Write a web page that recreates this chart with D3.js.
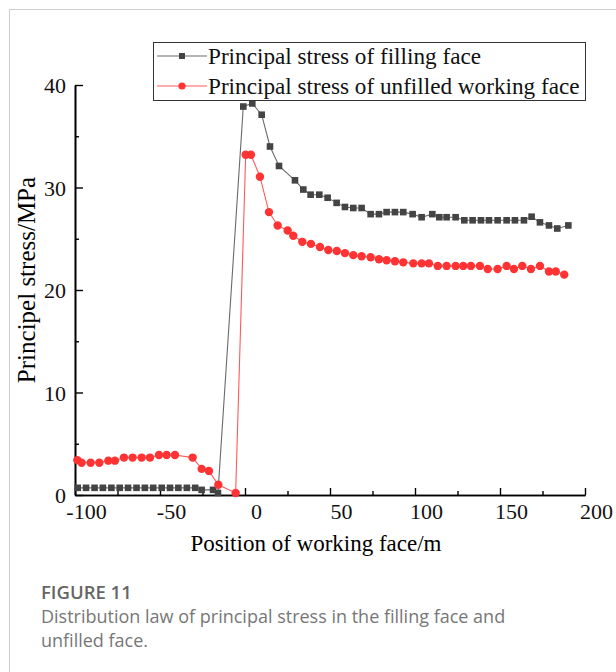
<!DOCTYPE html>
<html>
<head>
<meta charset="utf-8">
<script src="https://cdn.jsdelivr.net/npm/d3@7"></script>
<style>
  body { margin: 0; background: #fff; }
  svg { display: block; }
  .serif { font-family: "Liberation Serif", "Times New Roman", serif; }
</style>
</head>
<body>
<div id="chart"></div>
<script>
// position of working face (m) and principal stress (MPa)
var xFilling = [-98.4,-93.5,-88.5,-83.6,-78.6,-73.7,-68.8,-63.8,-58.9,-54,-49,-44.1,-39.2,-34.2,-29.3,-25.5,-18.8,-15.9,
  -1,4.3,9.8,14.7,20,29.4,34.3,38.6,43.7,48.6,53.9,58.8,63.7,68.6,73.9,78.8,83.3,88.2,93.1,98.6,103.9,110.2,114.3,
  118.6,123.9,129,133.9,138.8,143.5,148.6,153.9,158.8,164.1,168.6,173.5,178.8,183.7,190.2];
var yFilling = [0.7,0.7,0.7,0.7,0.7,0.7,0.7,0.7,0.7,0.7,0.7,0.7,0.7,0.7,0.7,0.5,0.5,0.2,
  37.9,38.2,37.1,34.0,32.1,30.7,29.8,29.3,29.3,29.0,28.5,28.1,28.0,28.0,27.4,27.4,27.6,27.6,27.6,27.4,27.1,27.4,27.1,
  27.1,27.1,26.8,26.8,26.8,26.8,26.8,26.8,26.8,26.8,27.15,26.6,26.3,26.0,26.3];

var xUnfilled = [-98.6,-96.1,-90.8,-85.7,-80.4,-76.5,-71.2,-66.1,-60.8,-55.9,-50.6,-46.1,-41.2,-30.8,-25.5,-21.2,-15.7,-5.5,
  0.4,3.5,8.8,14.1,19.2,25.1,28.4,33.7,38.8,44.1,49,54,58.8,63.7,68.6,73.9,78.8,83.3,88.2,93.1,99,103.9,108.2,113.4,
  118.6,123.9,128.4,132.9,138.2,142.8,148.6,153.9,158.2,163.1,168.2,173.5,178.8,182.8,187.8];
var yUnfilled = [3.4,3.15,3.15,3.15,3.35,3.35,3.65,3.65,3.65,3.65,3.9,3.9,3.9,3.65,2.55,2.35,1.0,0.2,
  33.2,33.2,31.05,27.6,26.3,25.8,25.3,24.7,24.5,24.2,23.9,23.8,23.6,23.4,23.3,23.2,23.0,22.9,22.8,22.7,22.6,22.6,22.6,22.35,
  22.35,22.35,22.35,22.35,22.35,22.05,22.05,22.35,22.05,22.35,22.05,22.35,21.8,21.8,21.5];

var xTicks = [-100, -50, 0, 50, 100, 150, 200];
var xMinor = [-75, -25, 25, 75, 125, 175];
var yTicks = [0, 10, 20, 30, 40];
var yMinor = [5, 15, 25, 35];

var seriesNames = ["Principal stress of filling face", "Principal stress of unfilled working face"];

var W = 616, H = 672;
var svg = d3.select("#chart").append("svg")
  .attr("width", W)
  .attr("height", H);

// figure frame (top and left edges visible)
svg.append("rect")
  .attr("x", 9.5).attr("y", 9.5)
  .attr("width", W + 20).attr("height", H + 20)
  .attr("fill", "none")
  .attr("stroke", "#cfcfcf");

var x = d3.scaleLinear().domain([-100, 200]).range([75, 585]);
var y = d3.scaleLinear().domain([0, 40]).range([495, 85]);

var g = svg.append("g").attr("class", "serif");

// plain hyphen for negatives, like the original
var fmt = function(d) { return String(d); };

// axes, ticks pointing inward
var xAxis = d3.axisBottom(x).tickValues(xTicks).tickSize(-7).tickSizeOuter(0).tickPadding(8).tickFormat(fmt);
var xAxisMinor = d3.axisBottom(x).tickValues(xMinor).tickSize(-4).tickSizeOuter(0).tickFormat("");
var yAxis = d3.axisLeft(y).tickValues(yTicks).tickSize(-8).tickSizeOuter(0).tickPadding(9).tickFormat(fmt);
var yAxisMinor = d3.axisLeft(y).tickValues(yMinor).tickSize(-4).tickSizeOuter(0).tickFormat("");

g.append("g").attr("transform", "translate(0," + y(0) + ")").call(xAxisMinor);
var gx = g.append("g").attr("transform", "translate(0," + y(0) + ")").call(xAxis);
g.append("g").attr("transform", "translate(" + x(-100) + ",0)").call(yAxisMinor);
var gy = g.append("g").attr("transform", "translate(" + x(-100) + ",0)").call(yAxis);

g.selectAll(".domain").attr("stroke", "#000").attr("stroke-width", 1.6);
g.selectAll(".tick line").attr("stroke", "#000").attr("stroke-width", 1.4);
gx.selectAll("text").attr("dx", 11).attr("font-size", 22).attr("font-family", "Liberation Serif").attr("fill", "#111");
gy.selectAll("text").attr("dy", "0.36em").attr("font-size", 22).attr("font-family", "Liberation Serif").attr("fill", "#111");

// axis titles
g.append("text")
  .attr("x", 316).attr("y", 551)
  .attr("text-anchor", "middle")
  .attr("font-size", 23)
  .text("Position of working face/m");

g.append("text")
  .attr("transform", "translate(35,280) rotate(-90)")
  .attr("text-anchor", "middle")
  .attr("font-size", 25)
  .text("Principel stress/MPa");

// series
var filling = xFilling.map(function(d, i) { return [d, yFilling[i]]; });
var unfilled = xUnfilled.map(function(d, i) { return [d, yUnfilled[i]]; });

var line = d3.line()
  .x(function(d) { return x(d[0]); })
  .y(function(d) { return y(d[1]); });

g.append("path").datum(filling)
  .attr("d", line).attr("fill", "none")
  .attr("stroke", "#6a6a6a").attr("stroke-width", 1.1);

g.append("path").datum(unfilled)
  .attr("d", line).attr("fill", "none")
  .attr("stroke", "#ff5a5a").attr("stroke-width", 1.1);

g.selectAll(".sq").data(filling).enter().append("rect")
  .attr("class", "sq")
  .attr("x", function(d) { return x(d[0]) - 3.3; })
  .attr("y", function(d) { return y(d[1]) - 3.3; })
  .attr("width", 6.6).attr("height", 6.6)
  .attr("fill", "#444");

g.selectAll(".dot").data(unfilled).enter().append("circle")
  .attr("class", "dot")
  .attr("cx", function(d) { return x(d[0]); })
  .attr("cy", function(d) { return y(d[1]); })
  .attr("r", 4.2)
  .attr("fill", "#ff3333");

// legend
var lg = g.append("g");
lg.append("rect")
  .attr("x", 153.5).attr("y", 42.5)
  .attr("width", 432).attr("height", 58)
  .attr("fill", "#fff").attr("stroke", "#333").attr("stroke-width", 1);

var legendItems = lg.selectAll(".item").data(seriesNames).enter().append("g")
  .attr("class", "item")
  .attr("transform", function(d, i) { return "translate(0," + (56 + i * 30) + ")"; });

legendItems.append("line")
  .attr("x1", 157).attr("x2", 207)
  .attr("stroke", function(d, i) { return i ? "#ff5a5a" : "#6a6a6a"; })
  .attr("stroke-width", 1.1);

legendItems.filter(function(d, i) { return i === 0; }).append("rect")
  .attr("x", 179).attr("y", -3).attr("width", 6).attr("height", 6).attr("fill", "#444");
legendItems.filter(function(d, i) { return i === 1; }).append("circle")
  .attr("cx", 182).attr("r", 3.6).attr("fill", "#ff3333");

legendItems.append("text")
  .attr("x", 208).attr("y", 7.5)
  .attr("font-size", 23.2)
  .attr("fill", "#111")
  .text(function(d) { return d; });

// caption
var cap = svg.append("g").attr("font-family", "'Open Sans', 'Noto Sans', sans-serif");
cap.append("text")
  .attr("x", 41).attr("y", 599)
  .attr("font-size", 18.5).attr("font-weight", 600)
  .attr("fill", "#666")
  .text("FIGURE 11");
cap.append("text")
  .attr("x", 41).attr("y", 623)
  .attr("font-size", 18)
  .attr("fill", "#777")
  .text("Distribution law of principal stress in the filling face and");
cap.append("text")
  .attr("x", 41).attr("y", 647)
  .attr("font-size", 18)
  .attr("fill", "#777")
  .text("unfilled face.");
</script>
</body>
</html>
